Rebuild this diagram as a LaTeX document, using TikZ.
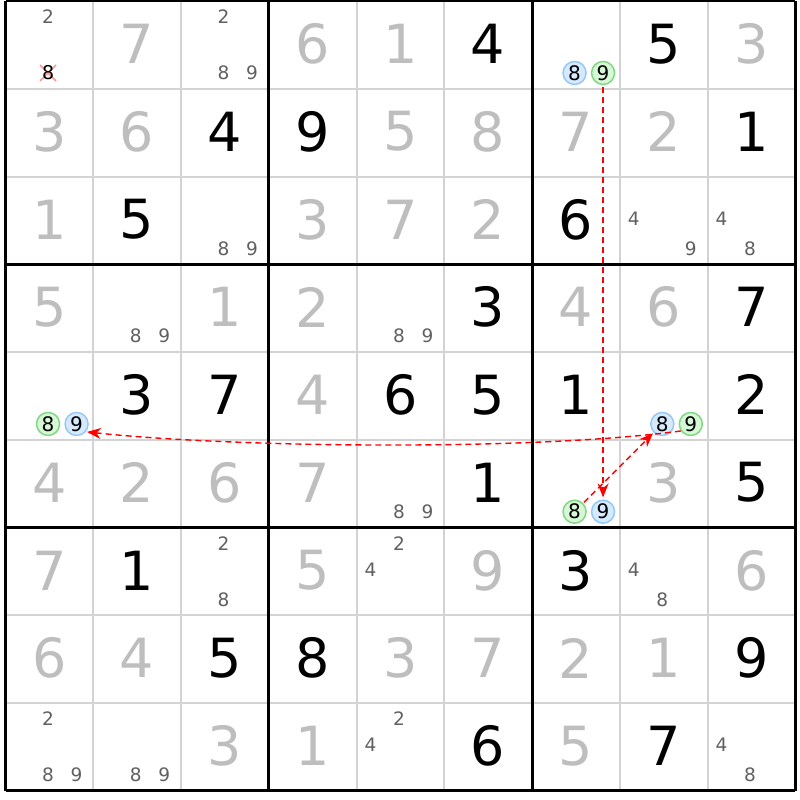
\documentclass[tikz,border=0pt]{standalone}
\usepackage{fontspec}
\setmainfont{DejaVu Sans}
\usetikzlibrary{arrows.meta}
\definecolor{gridthin}{RGB}{211,211,211}
\definecolor{solved}{RGB}{190,190,190}
\definecolor{cand}{RGB}{96,96,96}
\definecolor{bluefill}{RGB}{214,234,255}
\definecolor{blueline}{RGB}{150,200,245}
\definecolor{greenfill}{RGB}{214,248,214}
\definecolor{greenline}{RGB}{130,215,130}
\definecolor{xpink}{RGB}{255,150,150}
\begin{document}
\begin{tikzpicture}[x=1pt,y=-1pt,
 given/.style={font=\fontsize{54}{54}\selectfont, text=black, inner sep=0pt},
 solvedd/.style={given, text=solved},
 candd/.style={font=\fontsize{18.5}{18.5}\selectfont, text=cand, inner sep=0pt},
 bluec/.style={circle, draw=blueline, fill=bluefill, line width=1.5pt, minimum size=23pt, inner sep=0pt, font=\fontsize{20}{20}\selectfont, text=black},
 greenc/.style={bluec, draw=greenline, fill=greenfill},
 crossed/.style={font=\fontsize{19}{19}\selectfont, text=black, inner sep=0pt},
 thinline/.style={gridthin, line width=2pt},
 thickline/.style={black, line width=3pt},
 link/.style={red, dash pattern=on 6pt off 4pt, line width=1.4pt, -{Stealth[length=14pt,width=11pt]}},
]
\useasboundingbox (0,0) rectangle (800,800);
\fill[white] (0,0) rectangle (800,800);
% grid
\foreach \i in {1,2,4,5,7,8} {
  \draw[thinline] ({5.5+87.75*\i},1) -- ({5.5+87.75*\i},790.75);
  \draw[thinline] (5.5,{1+87.75*\i}) -- (795.25,{1+87.75*\i});
}
\foreach \i in {0,3,6,9} {
  \draw[thickline] ({5.5+87.75*\i},1) -- ({5.5+87.75*\i},790.75);
  \draw[thickline] (5.5,{1+87.75*\i}) -- (795.25,{1+87.75*\i});
}
% given digits
\foreach \r/\c/\d in {0/5/4,0/7/5,1/2/4,1/3/9,1/8/1,2/1/5,2/6/6,3/5/3,3/8/7,
  4/1/3,4/2/7,4/4/6,4/5/5,4/6/1,4/8/2,5/5/1,5/8/5,6/1/1,6/6/3,7/2/5,7/3/8,7/8/9,8/5/6,8/7/7} {
  \node[given] (g\r\c) at ({5.5+87.75*(\c+0.5)},{1+87.75*(\r+0.5)-1}) {\d};
}
% solved (grey) digits
\foreach \r/\c/\d in {0/1/7,0/3/6,0/4/1,0/8/3,1/0/3,1/1/6,1/4/5,1/5/8,1/6/7,1/7/2,
  2/0/1,2/3/3,2/4/7,2/5/2,3/0/5,3/2/1,3/3/2,3/6/4,3/7/6,4/3/4,
  5/0/4,5/1/2,5/2/6,5/3/7,5/7/3,6/0/7,6/3/5,6/5/9,6/8/6,
  7/0/6,7/1/4,7/4/3,7/5/7,7/6/2,7/7/1,8/2/3,8/3/1,8/6/5} {
  \node[solvedd] (s\r\c) at ({5.5+87.75*(\c+0.5)},{1+87.75*(\r+0.5)-1}) {\d};
}
% candidates
\foreach \r/\c/\d in {0/0/2,0/2/2,0/2/8,0/2/9,2/2/8,2/2/9,2/7/4,2/7/9,2/8/4,2/8/8,
  3/1/8,3/1/9,3/4/8,3/4/9,5/4/8,5/4/9,6/2/2,6/2/8,6/4/2,6/4/4,6/7/4,6/7/8,
  8/0/2,8/0/8,8/0/9,8/1/8,8/1/9,8/4/2,8/4/4,8/8/4,8/8/8} {
  \pgfmathsetmacro\ci{mod(\d-1,3)}
  \pgfmathsetmacro\ri{floor((\d-1)/3)}
  \pgfmathsetmacro\px{5.5+87.75*(\c+0.16+0.325*\ci)}
  \pgfmathsetmacro\py{1+87.75*(\r+0.18+0.28*\ri+0.02*\ri*\ri)}
  \node[candd] (k\r\c\d) at (\px,\py) {\d};
}
% highlighted candidates
\foreach \r/\c/\d/\s in {0/6/8/bluec,0/6/9/greenc,4/0/8/greenc,4/0/9/bluec,
  4/7/8/bluec,4/7/9/greenc,5/6/8/greenc,5/6/9/bluec} {
  \pgfmathsetmacro\ci{mod(\d-1,3)}
  \pgfmathsetmacro\ri{floor((\d-1)/3)}
  \pgfmathsetmacro\px{5.5+87.75*(\c+0.16+0.325*\ci)}
  \pgfmathsetmacro\py{1+87.75*(\r+0.18+0.28*\ri+0.02*\ri*\ri)}
  \node[\s] (k\r\c\d) at (\px,\py) {\d};
}
% eliminated candidate
\coordinate (x008) at ({5.5+87.75*0.485},{1+87.75*0.82});
\draw[xpink, line width=1.6pt] ([shift={(-8,-8)}]x008) -- ([shift={(8,8)}]x008)
  ([shift={(-8,8)}]x008) -- ([shift={(8,-8)}]x008);
\node[crossed] (k008) at (x008) {8};
% links
\draw[link, shorten <=2pt, shorten >=2pt] (k069) -- (k569);
\draw[link, shorten <=1pt, shorten >=1pt] (k568) -- (k478);
\draw[link, shorten >=1pt] (k479.215) .. controls +(-150,20) and +(150,16) .. (k409.-40);
\end{tikzpicture}
\end{document}
